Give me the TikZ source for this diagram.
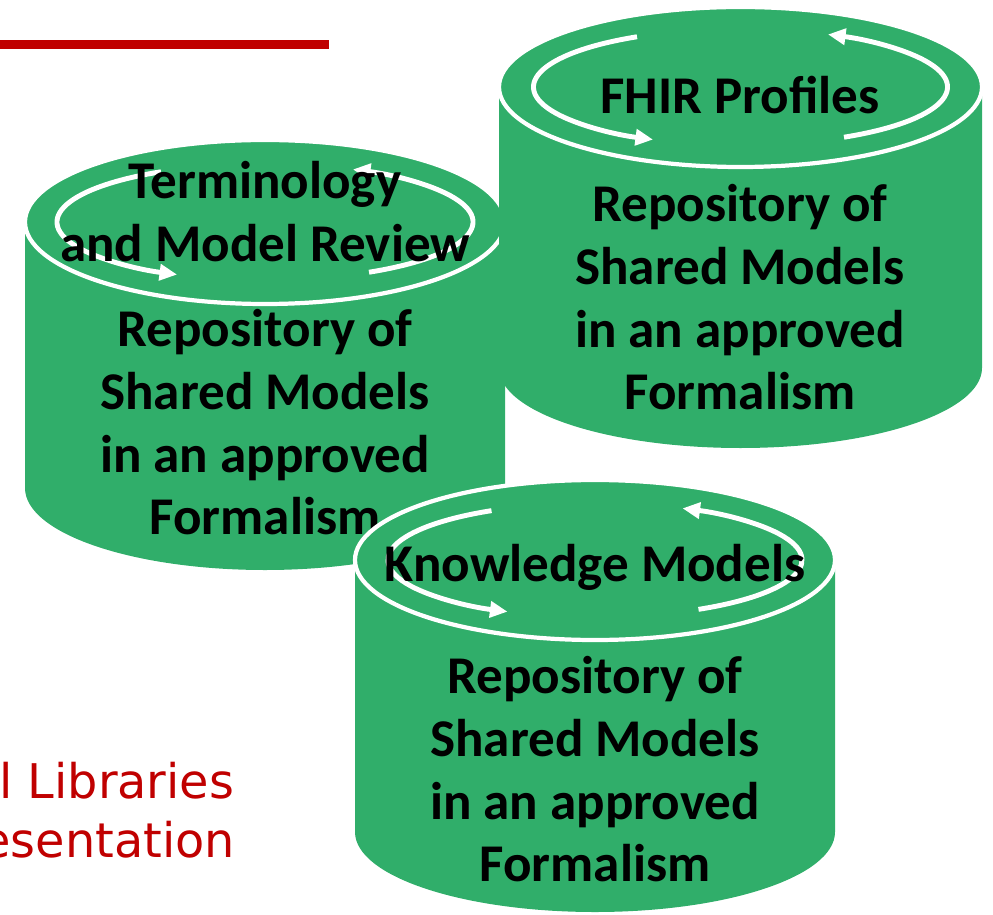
\documentclass[tikz,border=0pt]{standalone}
\usepackage{fontspec}
\setmainfont{Carlito}
\newfontfamily\slidefont{DejaVu Sans}
\usepackage{tikz}
\usetikzlibrary{arrows.meta,calc,positioning}
\definecolor{drumgreen}{RGB}{48,174,106}
\definecolor{slidered}{RGB}{192,0,0}

\begin{document}
\begin{tikzpicture}[x=0.02cm,y=0.02cm,
  body/.style={fill=drumgreen},
  lid/.style={fill=drumgreen,draw=white,line width=2.4pt},
  cyc/.style={draw=white,line width=2.8pt,-{Triangle[length=10pt,width=9pt]}},
  lbl/.style={font=\fontsize{30.2}{35.7}\selectfont\bfseries,align=center,inner sep=0pt,anchor=north},
  redtxt/.style={font=\slidefont\fontsize{27.2}{32}\selectfont,text=slidered,inner sep=0pt,anchor=base west}]
\useasboundingbox (0,0) rectangle (993,-915);

% slide remains
\draw[slidered,line width=4.8pt] (0,-44.5) coordinate(rulel) -- (329,-44.5) coordinate(ruler);
\node[redtxt] (libs) at (-1,-798) {l Libraries};
\node[redtxt] (pres) at (-19,-857) {esentation};

% terminology drum
\fill[body] (25,-222) -- (25,-488) arc[start angle=180,end angle=360,x radius=240,y radius=82] -- (505,-222) arc[start angle=0,end angle=180,x radius=240,y radius=82] -- cycle;
\draw[lid] (265,-222) coordinate(T) ellipse [x radius=240,y radius=82];
\draw[cyc] ($(T)+(120:208 and 58)$) arc[start angle=120,end angle=245,x radius=208,y radius=58];
\draw[cyc] ($(T)+(-60:208 and 58)$) arc[start angle=-60,end angle=65,x radius=208,y radius=58];
\node[lbl] (termtitle) at (265,-161) {Terminology\\and Model Review};
\node[lbl] (termrepo) at (265,-309) {Repository of\\Shared Models\\in an approved\\Formalism};

% fhir drum
\fill[body] (499,-87) -- (499,-368) arc[start angle=180,end angle=360,x radius=241.5,y radius=80] -- (982,-87) arc[start angle=0,end angle=180,x radius=241.5,y radius=80] -- cycle;
\draw[lid] (740.5,-87) coordinate(F) ellipse [x radius=241.5,y radius=80];
\draw[cyc] ($(F)+(120:207 and 58)$) arc[start angle=120,end angle=245,x radius=207,y radius=58];
\draw[cyc] ($(F)+(-60:207 and 58)$) arc[start angle=-60,end angle=65,x radius=207,y radius=58];
\node[lbl] (fhirtitle) at (740,-76) {FHIR Profiles};
\node[lbl] (fhirrepo) at (740,-184) {Repository of\\Shared Models\\in an approved\\Formalism};

% knowledge drum
\fill[body] (355,-560) -- (355,-832) arc[start angle=180,end angle=360,x radius=240,y radius=80] -- (835,-560) arc[start angle=0,end angle=180,x radius=240,y radius=80] -- cycle;
\draw[lid] (595,-560) coordinate(K) ellipse [x radius=240,y radius=80];
\draw[cyc] ($(K)+(120:207 and 57)$) arc[start angle=120,end angle=245,x radius=207,y radius=57];
\draw[cyc] ($(K)+(-60:207 and 57)$) arc[start angle=-60,end angle=65,x radius=207,y radius=57];
\node[lbl] (knowtitle) at (595,-544) {Knowledge Models};
\node[lbl] (knowrepo) at (595,-656) {Repository of\\Shared Models\\in an approved\\Formalism};
\end{tikzpicture}
\end{document}
